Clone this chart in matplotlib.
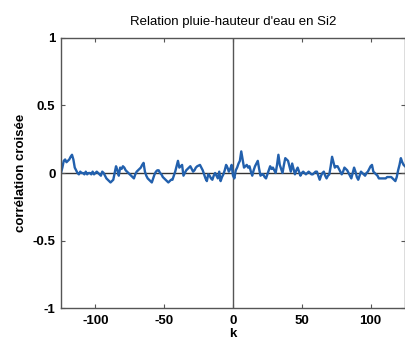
import numpy as np
import matplotlib
matplotlib.use('Agg')
from matplotlib import pyplot as plt

plt.rcParams.update({'font.family': ['Liberation Sans', 'DejaVu Sans'], 'font.size': 9})

# lags and cross-correlation values
lags = np.arange(-125, 126)
xcorr = [
    # -125 .. -116
    0.00, 0.04, 0.09, 0.10, 0.08, 0.09, 0.10, 0.12, 0.135, 0.10,
    # -115 .. -106
    0.04, 0.02, 0.00, -0.01, 0.01, 0.00, 0.00, -0.01, 0.01, -0.01,
    # -105 .. -96
    0.00, 0.00, -0.01, 0.01, -0.01, 0.00, 0.01, 0.00, -0.01, -0.02,
    # -95 .. -86
    0.01, 0.00, -0.02, -0.04, -0.05, -0.06, -0.07, -0.06, -0.05, 0.00,
    # -85 .. -76
    0.05, 0.02, -0.02, 0.04, 0.03, 0.05, 0.04, 0.02, 0.01, 0.00,
    # -75 .. -66
    -0.01, -0.02, -0.03, -0.04, -0.01, 0.01, 0.02, 0.03, 0.04, 0.06,
    # -65 .. -56
    0.075, 0.01, -0.02, -0.04, -0.05, -0.06, -0.07, -0.04, -0.01, 0.01,
    # -55 .. -46
    0.02, 0.02, 0.00, -0.01, -0.03, -0.04, -0.05, -0.06, -0.07, -0.06,
    # -45 .. -36
    -0.05, -0.05, -0.02, 0.01, 0.05, 0.09, 0.04, 0.05, 0.06, -0.02,
    # -35 .. -26
    0.00, 0.02, 0.03, 0.04, 0.05, 0.03, 0.01, 0.02, 0.04, 0.05,
    # -25 .. -16
    0.055, 0.06, 0.04, 0.02, -0.01, -0.04, -0.06, -0.01, -0.02, -0.04,
    # -15 .. -6
    -0.05, -0.02, 0.00, -0.02, -0.04, 0.01, -0.06, -0.03, -0.01, 0.02,
    # -5 .. 4
    0.06, 0.04, 0.01, 0.03, 0.06, -0.02, -0.04, 0.02, 0.04, 0.07,
    # 5 .. 14
    0.09, 0.16, 0.10, 0.04, 0.05, 0.06, 0.04, 0.05, 0.01, -0.02,
    # 15 .. 24
    0.02, 0.05, 0.07, 0.09, 0.03, -0.02, -0.01, -0.01, -0.03, -0.04,
    # 25 .. 34
    -0.01, 0.02, 0.05, 0.03, 0.04, 0.02, 0.00, 0.06, 0.135, 0.06,
    # 35 .. 44
    0.03, 0.00, 0.06, 0.11, 0.10, 0.09, 0.05, 0.01, 0.07, 0.03,
    # 45 .. 54
    -0.01, 0.02, 0.04, 0.01, -0.02, 0.00, 0.01, 0.00, -0.01, 0.00,
    # 55 .. 64
    0.01, 0.00, -0.01, -0.01, 0.00, 0.01, 0.01, -0.02, -0.05, -0.02,
    # 65 .. 74
    0.00, 0.01, -0.02, -0.04, -0.02, -0.01, 0.05, 0.12, 0.08, 0.04,
    # 75 .. 84
    0.05, 0.05, 0.03, 0.01, -0.01, 0.01, 0.04, 0.03, 0.02, 0.00,
    # 85 .. 94
    -0.02, -0.04, 0.00, 0.04, 0.01, -0.03, -0.05, -0.02, 0.01, 0.00,
    # 95 .. 104
    -0.01, -0.02, 0.00, 0.01, 0.03, 0.05, 0.06, 0.01, 0.00, -0.01,
    # 105 .. 114
    -0.02, -0.04, -0.04, -0.04, -0.04, -0.04, -0.04, -0.03, -0.03, -0.03,
    # 115 .. 125
    -0.03, -0.04, -0.05, -0.06, -0.03, 0.02, 0.06, 0.11, 0.08, 0.06, 0.05,
]

xticks = [-100, -50, 0, 50, 100]
yticks = [-1, -0.5, 0, 0.5, 1]
yticklabels = ['-1', '-0.5', '0', '0.5', '1']

fig = plt.figure(figsize=(4.05, 3.42), dpi=100)
ax = fig.add_axes([0.1506, 0.0994, 0.8494, 0.7895])

ax.axhline(0, color='#333333', linewidth=1.0, zorder=1)
ax.axvline(0, color='#555555', linewidth=1.0, zorder=1)
ax.plot(lags, xcorr, color='#2260ad', linewidth=1.7, zorder=2)

ax.set_xlim(-125, 125)
ax.set_ylim(-1, 1)
ax.set_xticks(xticks)
ax.set_xticklabels([str(t) for t in xticks], fontweight='bold')
ax.set_yticks(yticks)
ax.set_yticklabels(yticklabels, fontweight='bold')
ax.tick_params(direction='in', top=True, right=True, length=3, width=0.8,
               colors='#555555', labelcolor='black', labelsize=9.5)
ax.tick_params(axis='x', pad=5)
ax.tick_params(axis='y', pad=4)
for s in ax.spines.values():
    s.set_color('#555555')
    s.set_linewidth(1.0)

ax.set_title("Relation pluie-hauteur d'eau en Si2", fontsize=9.5, pad=9)
ax.set_xlabel('k', fontweight='bold', fontsize=9.5, labelpad=1)
ax.set_ylabel('corrélation croisée', fontweight='bold', fontsize=9.5, labelpad=4)

fig.savefig('out.png', dpi=100)
